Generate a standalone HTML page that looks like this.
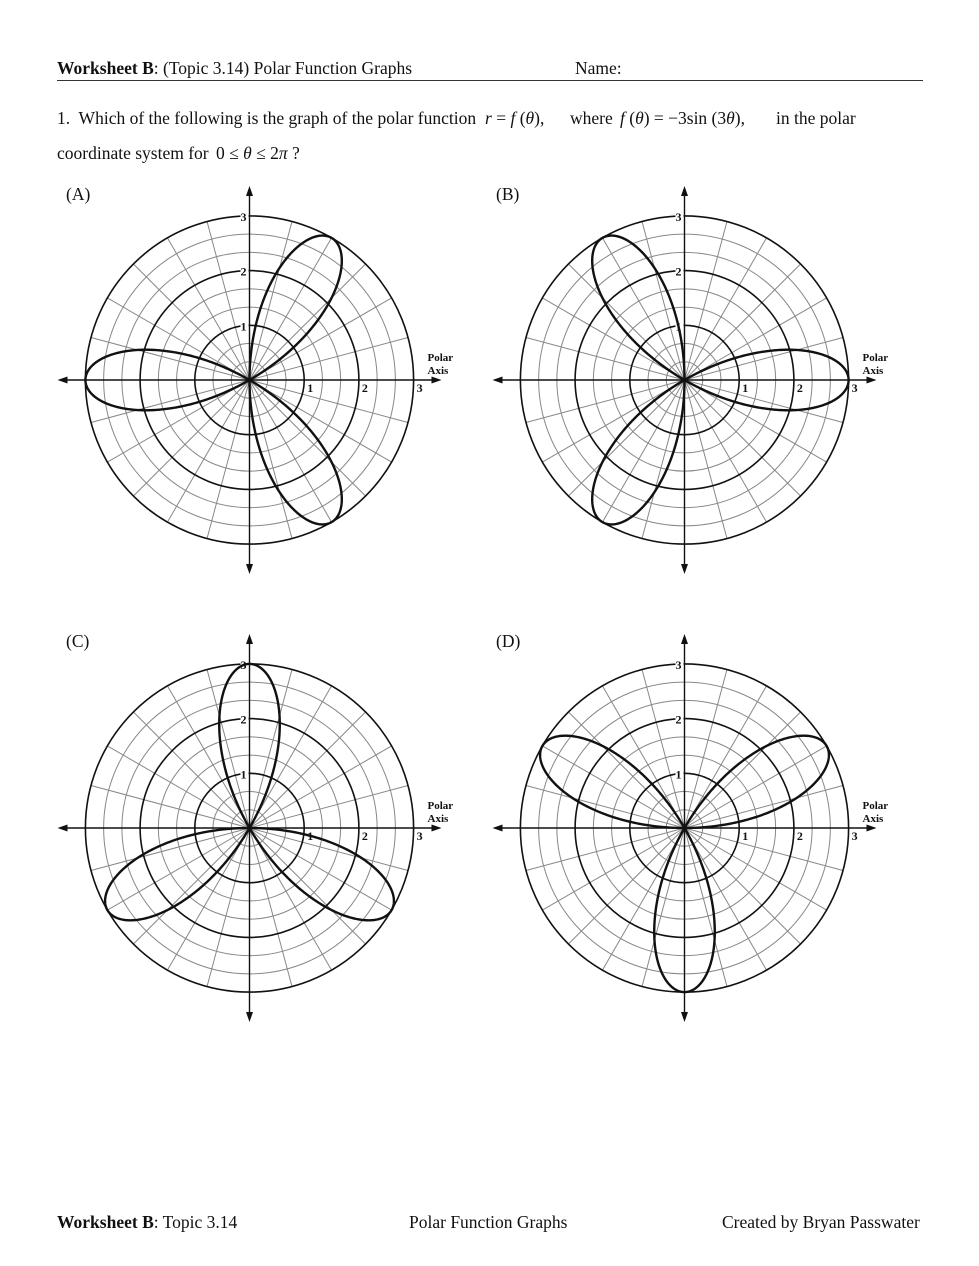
<!DOCTYPE html>
<html><head><meta charset="utf-8"><style>
body{margin:0;background:#fff;width:979px;height:1266px;position:relative;overflow:hidden;font-family:"Liberation Serif",serif;color:#111}
.t{position:absolute;font-size:17.5px;white-space:nowrap;line-height:20px}
i{font-style:italic}
</style></head><body>
<div class="t" style="left:57px;top:58px"><b>Worksheet B</b>: (Topic 3.14) Polar Function Graphs</div>
<div class="t" style="left:575px;top:58px">Name:</div>
<div style="position:absolute;left:57px;top:80px;width:866px;height:1px;background:#333"></div>
<div class="t" style="left:57px;top:108px">1.&nbsp; Which of the following is the graph of the polar function</div>
<div class="t" style="left:485px;top:108px"><i>r</i> = <i>f</i> (<i>θ</i>),</div>
<div class="t" style="left:570px;top:108px">where</div>
<div class="t" style="left:620px;top:108px"><i>f</i> (<i>θ</i>) = −3sin (3<i>θ</i>),</div>
<div class="t" style="left:776px;top:108px">in the polar</div>
<div class="t" style="left:57px;top:143px">coordinate system for</div>
<div class="t" style="left:216px;top:143px">0 ≤ <i>θ</i> ≤ 2<i>π</i> ?</div>
<div class="t" style="left:66px;top:184px">(A)</div>
<div class="t" style="left:496px;top:184px">(B)</div>
<div class="t" style="left:66px;top:631px">(C)</div>
<div class="t" style="left:496px;top:631px">(D)</div>
<div class="t" style="left:57px;top:1212px"><b>Worksheet B</b>: Topic 3.14</div>
<div class="t" style="left:409px;top:1212px">Polar Function Graphs</div>
<div class="t" style="left:722px;top:1212px">Created by Bryan Passwater</div>
<svg id="s" width="979" height="1266" style="position:absolute;left:0;top:0" xmlns="http://www.w3.org/2000/svg"></svg>
<script>
var s=document.getElementById('s'),h='';
var U=54.7;
function g(cx,cy,phi){
 for(var k=1;k<9;k++){if(k%3==0)continue;h+='<circle cx="'+cx+'" cy="'+cy+'" r="'+(k*U/3)+'" fill="none" stroke="#888" stroke-width="1"/>';}
 for(var a=0;a<360;a+=15){if(a%90==0)continue;var r=a*Math.PI/180;
  h+='<line x1="'+cx+'" y1="'+cy+'" x2="'+(cx+3*U*Math.cos(r))+'" y2="'+(cy-3*U*Math.sin(r))+'" stroke="#888" stroke-width="1"/>';}
 for(var k=1;k<=3;k++)h+='<circle cx="'+cx+'" cy="'+cy+'" r="'+(k*U)+'" fill="none" stroke="#111" stroke-width="1.6"/>';
 h+='<line x1="'+(cx-185)+'" y1="'+cy+'" x2="'+(cx+185)+'" y2="'+cy+'" stroke="#111" stroke-width="1.4"/>';
 h+='<line x1="'+cx+'" y1="'+(cy-187)+'" x2="'+cx+'" y2="'+(cy+187)+'" stroke="#111" stroke-width="1.4"/>';
 h+='<path d="M'+(cx-192)+' '+cy+'l10 -3.5v7z M'+(cx+192)+' '+cy+'l-10 -3.5v7z M'+cx+' '+(cy-194)+'l-3.5 10h7z M'+cx+' '+(cy+194)+'l-3.5 -10h7z" fill="#111"/>';
 for(var k=1;k<=3;k++){
  h+='<text x="'+(cx+k*U+3)+'" y="'+(cy+12)+'" font-family="Liberation Serif" font-weight="bold" font-size="12" fill="#111">'+k+'</text>';
  h+='<rect x="'+(cx-9)+'" y="'+(cy-k*U-6)+'" width="8" height="12" fill="#fff"/>';
  h+='<text x="'+(cx-9)+'" y="'+(cy-k*U+5)+'" font-family="Liberation Serif" font-weight="bold" font-size="12" fill="#111">'+k+'</text>';}
 h+='<text x="'+(cx+178)+'" y="'+(cy-19)+'" font-family="Liberation Serif" font-weight="bold" font-size="11" fill="#111">Polar</text>';
 h+='<text x="'+(cx+178)+'" y="'+(cy-6)+'" font-family="Liberation Serif" font-weight="bold" font-size="11" fill="#111">Axis</text>';
 var d='';for(var i=0;i<=720;i++){var t=i*Math.PI/720;var r=3*U*Math.cos(3*(t-phi));
  d+=(i?'L':'M')+(cx+r*Math.cos(t)).toFixed(2)+' '+(cy-r*Math.sin(t)).toFixed(2);}
 h+='<path d="'+d+'" fill="none" stroke="#111" stroke-width="2.4"/>';
}
var D=Math.PI/180;
g(249.5,380,60*D);g(684.5,380,0);g(249.5,828,90*D);g(684.5,828,30*D);
s.innerHTML=h;
</script>
</body></html>
